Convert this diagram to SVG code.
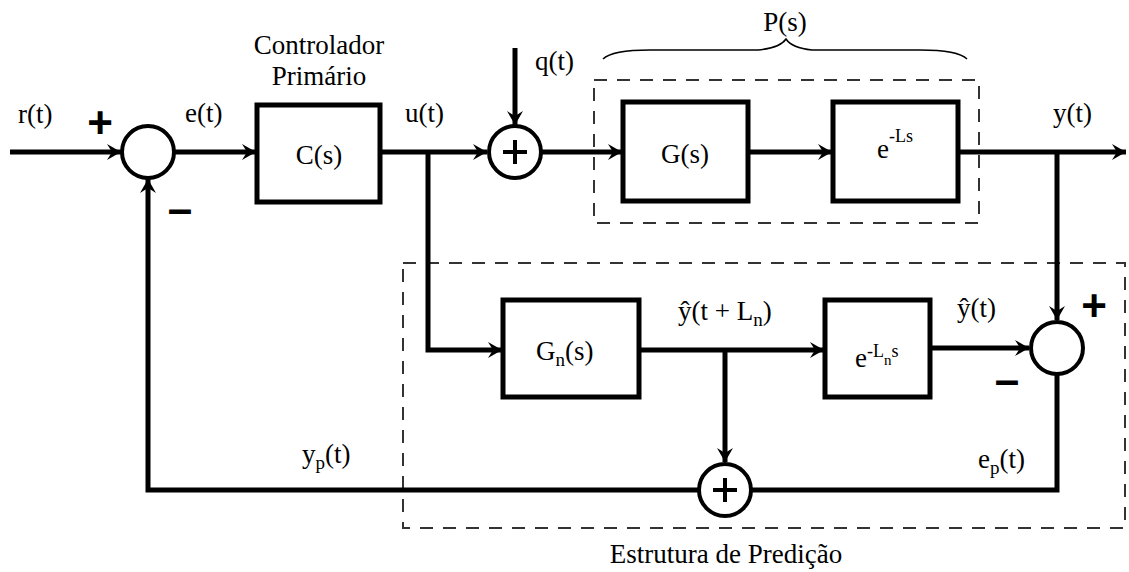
<svg xmlns="http://www.w3.org/2000/svg" width="1129" height="572" viewBox="0 0 1129 572">
<style>
.blk{fill:#fff;stroke:#000;stroke-width:5}
.sum{fill:#fff;stroke:#000;stroke-width:4}
.ln{fill:none;stroke:#000;stroke-width:5}
.dash{fill:none;stroke:#333;stroke-width:2;stroke-dasharray:13 10}
.t{font-family:"Liberation Serif","Times New Roman",serif;font-size:27px;fill:#000}
.s{font-family:"Liberation Sans",Arial,sans-serif;font-size:44px;font-weight:bold;fill:#000}
.pl{stroke:#000;stroke-width:4}
</style>
<defs>
<marker id="ah" markerUnits="userSpaceOnUse" markerWidth="16" markerHeight="18" viewBox="-15 -9 16 18" refX="0" refY="0" orient="auto">
<path d="M0,0 L-14,-8 L-9,0 L-14,8 Z" fill="#000"/>
</marker>
</defs>
<g id="frames">
<rect class="dash" x="594" y="80" width="385" height="143"/>
<rect class="dash" x="403" y="263" width="722" height="265"/>
<path d="M603,59 Q612,50 650,50 L758,50 Q780,48 786,39 Q792,48 812,50 L920,50 Q958,50 967,59" fill="none" stroke="#000" stroke-width="1.5"/>
<text class="t" x="785" y="31" text-anchor="middle">P(s)</text>
<text class="t" x="726" y="563" text-anchor="middle">Estrutura de Predição</text>
</g>
<g id="connectors">
<path class="ln" d="M10,152 H121" marker-end="url(#ah)"/>
<path class="ln" d="M174,152 H256" marker-end="url(#ah)"/>
<path class="ln" d="M380,152 H487" marker-end="url(#ah)"/>
<path class="ln" d="M515,48 V125" marker-end="url(#ah)"/>
<path class="ln" d="M542,152 H622" marker-end="url(#ah)"/>
<path class="ln" d="M748,152 H832" marker-end="url(#ah)"/>
<path class="ln" d="M958,152 H1126" marker-end="url(#ah)"/>
<path class="ln" d="M1057,152 V320" marker-end="url(#ah)"/>
<path class="ln" d="M428,152 V350 H502" marker-end="url(#ah)"/>
<path class="ln" d="M639,350 H824" marker-end="url(#ah)"/>
<path class="ln" d="M725,350 V462" marker-end="url(#ah)"/>
<path class="ln" d="M930,348 H1029" marker-end="url(#ah)"/>
<path class="ln" d="M1057,375 V490 H752"/>
<path class="ln" d="M698,490 H148 V179" marker-end="url(#ah)"/>
</g>
<g id="sum1">
<circle class="sum" cx="148" cy="152" r="26"/>
<text class="s" x="100" y="138" text-anchor="middle">+</text>
<text class="s" x="180" y="224" text-anchor="middle">–</text>
</g>
<g id="C">
<rect class="blk" x="257" y="105" width="123" height="97"/>
<text class="t" x="319" y="164" text-anchor="middle">C(s)</text>
<text class="t" x="319" y="54" text-anchor="middle">Controlador</text>
<text class="t" x="319" y="85" text-anchor="middle">Primário</text>
</g>
<g id="sum2">
<circle class="sum" cx="515" cy="152" r="26"/>
<path class="pl" d="M503,152 H527 M515,140 V164"/>
</g>
<g id="G">
<rect class="blk" x="623" y="102" width="125" height="99"/>
<text class="t" x="685" y="163" text-anchor="middle">G(s)</text>
</g>
<g id="delay">
<rect class="blk" x="833" y="102" width="125" height="99"/>
<text class="t" x="877" y="158">e<tspan font-size="18" dy="-16">-Ls</tspan></text>
</g>
<g id="Gn">
<rect class="blk" x="503" y="300" width="136" height="97"/>
<text class="t" x="536" y="360">G<tspan font-size="19" dy="6">n</tspan><tspan dy="-6">(s)</tspan></text>
</g>
<g id="delayn">
<rect class="blk" x="825" y="300" width="105" height="97"/>
<text class="t" x="855" y="367">e<tspan font-size="18" dy="-10">-L</tspan><tspan font-size="15" dy="8">n</tspan><tspan font-size="18" dy="-8">s</tspan></text>
</g>
<g id="sum3">
<circle class="sum" cx="1057" cy="348" r="26"/>
<text class="s" x="1094" y="321" text-anchor="middle">+</text>
<text class="s" x="1007" y="395" text-anchor="middle">–</text>
</g>
<g id="sum4">
<circle class="sum" cx="725" cy="490" r="26"/>
<path class="pl" d="M713,490 H737 M725,478 V502"/>
</g>
<g id="labels">
<text class="t" x="18" y="123">r(t)</text>
<text class="t" x="185" y="122">e(t)</text>
<text class="t" x="405" y="122">u(t)</text>
<text class="t" x="535" y="70">q(t)</text>
<text class="t" x="1053" y="122">y(t)</text>
<text class="t" x="678" y="320">ŷ(t + L<tspan font-size="19" dy="6">n</tspan><tspan dy="-6">)</tspan></text>
<text class="t" x="957" y="317">ŷ(t)</text>
<text class="t" x="302" y="463">y<tspan font-size="19" dy="6">p</tspan><tspan dy="-6">(t)</tspan></text>
<text class="t" x="978" y="468">e<tspan font-size="19" dy="6">p</tspan><tspan dy="-6">(t)</tspan></text>
</g>
</svg>
